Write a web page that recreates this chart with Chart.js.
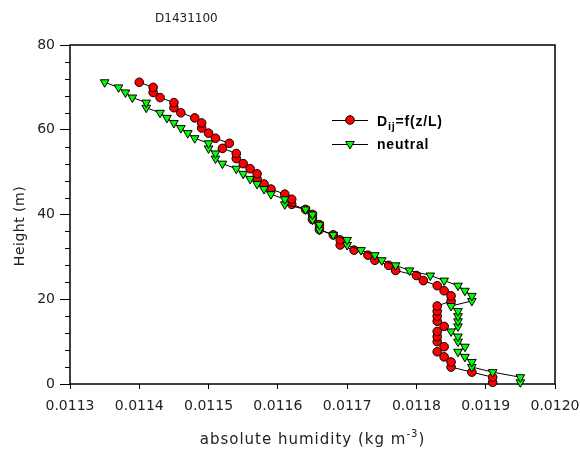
<!DOCTYPE html>
<html>
<head>
<meta charset="utf-8">
<script src="https://cdn.jsdelivr.net/npm/chart.js@4.4.0/dist/chart.umd.min.js"></script>
<style>
  html, body { margin: 0; padding: 0; background: #fff; }
</style>
</head>
<body>
<canvas id="my-chart" width="580" height="452"></canvas>
<script>
// heights (m), bottom to top
const heights = [
    0.4, 1.6, 2.8, 4.0, 5.2, 6.4, 7.6, 8.8, 10.0, 11.2,
    12.4, 13.6, 14.8, 16.0, 17.2, 18.4, 19.6, 20.8, 22.0, 23.2,
    24.4, 25.6, 26.8, 28.0, 29.2, 30.4, 31.6, 32.8, 34.0, 35.2,
    36.4, 37.6, 38.8, 40.0, 41.2, 42.4, 43.6, 44.8, 46.0, 47.2,
    48.4, 49.6, 50.8, 52.0, 53.2, 54.4, 55.6, 56.8, 58.0, 59.2,
    60.4, 61.6, 62.8, 64.0, 65.2, 66.4, 67.6, 68.8, 70.0, 71.2
];

// absolute humidity (kg m-3), Dij = f(z/L)
const dijValues = [
    0.01191, 0.01191, 0.01188, 0.01185, 0.01185, 0.01184, 0.01183, 0.01184, 0.01183, 0.01183,
    0.01183, 0.01184, 0.01183, 0.01183, 0.01183, 0.01183, 0.01185, 0.01185, 0.01184, 0.01183,
    0.01181, 0.01180, 0.01177, 0.01176, 0.01174, 0.01173, 0.01171, 0.01169, 0.01169, 0.01168,
    0.01166, 0.01166, 0.01165, 0.01165, 0.01164, 0.01162, 0.01162, 0.01161, 0.01159, 0.01158,
    0.01157, 0.01157, 0.01156, 0.01155, 0.01154, 0.01154, 0.01152, 0.01153, 0.01151, 0.01150,
    0.01149, 0.01149, 0.01148, 0.01146, 0.01145, 0.01145, 0.01143, 0.01142, 0.01142, 0.01140
];

// absolute humidity (kg m-3), neutral
const neutralValues = [
    0.01195, 0.01195, 0.01191, 0.01188, 0.01188, 0.01187, 0.01186, 0.01187, 0.01186, 0.01186,
    0.01185, 0.01186, 0.01186, 0.01186, 0.01186, 0.01185, 0.01188, 0.01188, 0.01187, 0.01186,
    0.01184, 0.01182, 0.01179, 0.01177, 0.01175, 0.01174, 0.01172, 0.01170, 0.01170, 0.01168,
    0.01166, 0.01166, 0.01165, 0.01165, 0.01164, 0.01161, 0.01161, 0.01159, 0.01158, 0.01157,
    0.01156, 0.01155, 0.01154, 0.01152, 0.01151, 0.01151, 0.01150, 0.01150, 0.01148, 0.01147,
    0.01146, 0.01145, 0.01144, 0.01143, 0.01141, 0.01141, 0.01139, 0.01138, 0.01137, 0.01135
];

const xTicks = [0.0113, 0.0114, 0.0115, 0.0116, 0.0117, 0.0118, 0.0119, 0.0120];
const yTicks = [0, 20, 40, 60, 80];
const yMinorTicks = [4, 8, 12, 16, 24, 28, 32, 36, 44, 48, 52, 56, 64, 68, 72, 76];

const chartTitle = 'D1431100';
const seriesNames = ['Dij=f(z/L)', 'neutral'];

// dessine cadre, ticks mineurs, titres et légende
const decorPlugin = {
    id: 'decor',
    beforeDatasetsDraw(chart) {
        const ctx = chart.ctx;
        const a = chart.chartArea;
        const yScale = chart.scales.y;
        ctx.save();
        ctx.strokeStyle = '#000';
        ctx.lineWidth = 1.5;
        ctx.strokeRect(a.left, a.top, a.right - a.left, a.bottom - a.top);
        ctx.lineWidth = 1;
        yMinorTicks.forEach(v => {
            const y = Math.round(yScale.getPixelForValue(v)) + 0.5;
            ctx.beginPath();
            ctx.moveTo(a.left - 5, y);
            ctx.lineTo(a.left, y);
            ctx.stroke();
        });
        ctx.restore();
    },
    afterDraw(chart) {
        const ctx = chart.ctx;
        const a = chart.chartArea;
        ctx.save();
        ctx.fillStyle = '#222';
        ctx.letterSpacing = '0px';

        // titre
        ctx.font = '12px "DejaVu Sans"';
        ctx.textAlign = 'left';
        ctx.textBaseline = 'alphabetic';
        ctx.fillText(chartTitle, 155, 22);

        // titre axe y
        ctx.letterSpacing = '0.5px';
        ctx.font = '14px "DejaVu Sans"';
        ctx.save();
        ctx.translate(20, 226);
        ctx.rotate(-Math.PI / 2);
        ctx.textAlign = 'center';
        ctx.textBaseline = 'middle';
        ctx.fillText('Height (m)', 0, 0);
        ctx.restore();

        // titre axe x avec exposant
        ctx.letterSpacing = '1px';
        const main = 'absolute humidity (kg m';
        ctx.font = '15px "DejaVu Sans"';
        const w1 = ctx.measureText(main).width;
        ctx.font = '10px "DejaVu Sans"';
        const w2 = ctx.measureText('-3').width;
        ctx.font = '15px "DejaVu Sans"';
        const w3 = ctx.measureText(')').width;
        let x = (a.left + a.right) / 2 - (w1 + w2 + w3) / 2;
        ctx.textAlign = 'left';
        ctx.fillText(main, x, 444);
        x += w1;
        ctx.font = '10px "DejaVu Sans"';
        ctx.fillText('-3', x, 437);
        x += w2;
        ctx.font = '15px "DejaVu Sans"';
        ctx.fillText(')', x, 444);

        // légende
        ctx.letterSpacing = '0.8px';
        const rows = [{ y: 120, ds: 0 }, { y: 144, ds: 1 }];
        rows.forEach(r => {
            const ds = chart.data.datasets[r.ds];
            ctx.strokeStyle = '#000';
            ctx.lineWidth = 1;
            ctx.beginPath();
            ctx.moveTo(332, r.y + 0.5);
            ctx.lineTo(368, r.y + 0.5);
            ctx.stroke();
            ctx.fillStyle = ds.pointBackgroundColor;
            Chart.helpers.drawPoint(ctx, {
                pointStyle: ds.pointStyle,
                rotation: ds.pointRotation || 0,
                radius: ds.pointRadius,
                borderWidth: 1
            }, 350, r.y);
        });
        ctx.fillStyle = '#000';
        ctx.textBaseline = 'alphabetic';
        ctx.font = 'bold 14px "Liberation Sans"';
        let lx = 377;
        ctx.fillText('D', lx, 126);
        lx += ctx.measureText('D').width;
        ctx.font = 'bold 11px "Liberation Sans"';
        ctx.fillText('ij', lx, 130);
        lx += ctx.measureText('ij').width;
        ctx.font = 'bold 14px "Liberation Sans"';
        ctx.fillText('=f(z/L)', lx, 126);
        ctx.fillText(seriesNames[1], 377, 149);
        ctx.restore();
    }
};

const ctx = document.getElementById('my-chart').getContext('2d');

const chart = new Chart(ctx, {
    type: 'scatter',
    data: {
        datasets: [
            {
                label: seriesNames[0],
                data: heights.map((h, i) => ({ x: dijValues[i], y: h })),
                showLine: true,
                borderColor: '#000',
                borderWidth: 1,
                pointStyle: 'circle',
                pointRadius: 4.3,
                pointBackgroundColor: '#ff0000',
                pointBorderColor: '#000',
                pointBorderWidth: 1,
                clip: false,
                order: 2
            },
            {
                label: seriesNames[1],
                data: heights.map((h, i) => ({ x: neutralValues[i], y: h })),
                showLine: true,
                borderColor: '#000',
                borderWidth: 1,
                pointStyle: 'triangle',
                pointRotation: 180,
                pointRadius: 5,
                pointBackgroundColor: '#00ff00',
                pointBorderColor: '#000',
                pointBorderWidth: 1,
                clip: false,
                order: 1
            }
        ]
    },
    options: {
        responsive: false,
        animation: false,
        devicePixelRatio: 1,
        layout: {
            padding: { top: 45, right: 25, bottom: 0, left: 0 }
        },
        plugins: {
            legend: { display: false },
            tooltip: { enabled: false },
            title: { display: false }
        },
        scales: {
            x: {
                type: 'linear',
                position: 'bottom',
                min: 0.0113,
                max: 0.0120,
                afterBuildTicks: s => { s.ticks = xTicks.map(v => ({ value: v })); },
                afterFit: s => {
                    s.height = 68;
                    s.paddingLeft = 0;
                    s.paddingRight = 0;
                },
                border: { display: false },
                grid: {
                    drawOnChartArea: false,
                    drawTicks: true,
                    tickLength: 5,
                    color: '#000'
                },
                ticks: {
                    autoSkip: false,
                    maxRotation: 0,
                    padding: 9,
                    color: '#222',
                    font: { family: 'DejaVu Sans', size: 14 },
                    callback: v => v.toFixed(4)
                }
            },
            y: {
                type: 'linear',
                min: 0,
                max: 80,
                afterBuildTicks: s => { s.ticks = yTicks.map(v => ({ value: v })); },
                afterFit: s => {
                    s.width = 70;
                    s.paddingTop = 0;
                    s.paddingBottom = 0;
                },
                border: { display: false },
                grid: {
                    drawOnChartArea: false,
                    drawTicks: true,
                    tickLength: 10,
                    color: '#000'
                },
                ticks: {
                    padding: 5,
                    color: '#222',
                    font: { family: 'DejaVu Sans', size: 14 }
                }
            }
        }
    },
    plugins: [decorPlugin]
});
</script>
</body>
</html>
